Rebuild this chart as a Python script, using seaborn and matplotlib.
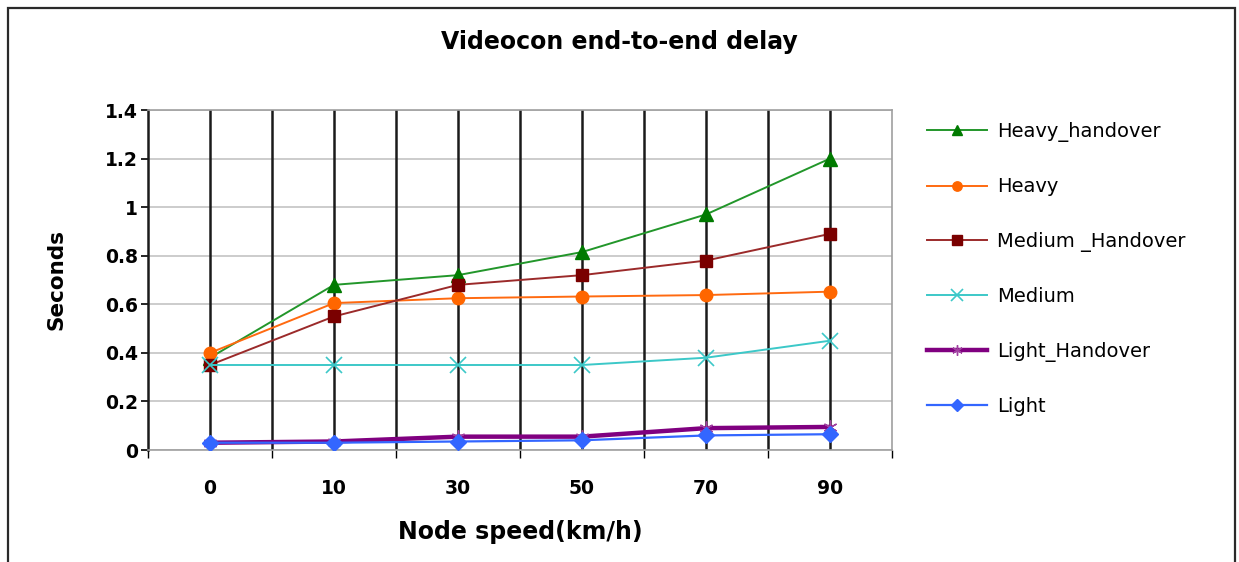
import matplotlib
matplotlib.use("Agg")
import matplotlib.pyplot as plt
from matplotlib.patches import Rectangle
import seaborn as sns
import pandas as pd

# Node speed categories (km/h)
speeds = ["0", "10", "30", "50", "70", "90"]

# End-to-end delay in seconds for each traffic load
heavy_handover = [0.38, 0.68, 0.72, 0.815, 0.97, 1.20]
heavy = [0.40, 0.605, 0.625, 0.632, 0.638, 0.652]
medium_handover = [0.35, 0.55, 0.68, 0.72, 0.78, 0.89]
medium = [0.35, 0.35, 0.35, 0.35, 0.38, 0.45]
light_handover = [0.03, 0.035, 0.055, 0.055, 0.09, 0.095]
light = [0.03, 0.03, 0.035, 0.04, 0.06, 0.065]

series_names = ["Heavy_handover", "Heavy", "Medium _Handover", "Medium",
                "Light_Handover", "Light"]
series_values = [heavy_handover, heavy, medium_handover, medium,
                 light_handover, light]

y_ticks = [0, 0.2, 0.4, 0.6, 0.8, 1, 1.2, 1.4]
y_tick_labels = ["0", "0.2", "0.4", "0.6", "0.8", "1", "1.2", "1.4"]

rows = []
for name, vals in zip(series_names, series_values):
    for i, (s, v) in enumerate(zip(speeds, vals)):
        rows.append({"series": name, "pos": i, "speed": s, "delay": v})
df = pd.DataFrame(rows)

styles = {
    "Heavy_handover": dict(color="#22962a", marker="^", ms=10, mfc="#007a00", mec="#007a00", mew=1, lw=1.4),
    "Heavy": dict(color="#ff6a10", marker="o", ms=9, mfc="#ff6600", mec="#ff6600", mew=1, lw=1.4),
    "Medium _Handover": dict(color="#9b2a2a", marker="s", ms=9, mfc="#7a0000", mec="#7a0000", mew=1, lw=1.4),
    "Medium": dict(color="#3cc8c8", marker="x", ms=11, mfc="#3cc8c8", mec="#3cc8c8", mew=1.2, lw=1.4),
    "Light_Handover": dict(color="#800080", marker=(6, 2, 0), ms=10, mfc="#800080", mec="#a040a0", mew=1.0, lw=3.2),
    "Light": dict(color="#3366ff", marker="D", ms=8, mfc="#3366ff", mec="#3366ff", mew=1, lw=1.6),
}

fig = plt.figure(figsize=(12.39, 5.62), dpi=100)
ax = fig.add_axes([148 / 1239, 1 - 450 / 562, (892 - 148) / 1239, (450 - 110) / 562])

for z, name in enumerate(series_names):
    st = styles[name]
    sub = df[df["series"] == name]
    sns.lineplot(data=sub, x="pos", y="delay", ax=ax, color=st["color"],
                 marker=st["marker"], markersize=st["ms"],
                 markerfacecolor=st["mfc"], markeredgecolor=st["mec"],
                 markeredgewidth=st["mew"], linewidth=st["lw"],
                 label=name, zorder=3 + z)

ax.set_xlim(-0.5, len(speeds) - 0.5)
ax.set_ylim(0, 1.4)

# category labels at centres, tick marks at category boundaries
ax.set_xticks(range(len(speeds)))
ax.set_xticklabels(speeds, fontsize=13.5, fontweight="bold")
ax.set_xticks([i - 0.5 for i in range(len(speeds) + 1)], minor=True)
ax.tick_params(axis="x", which="major", length=0, pad=21)
ax.tick_params(axis="x", which="minor", length=6, width=1, direction="out", color="black")

ax.set_yticks(y_ticks)
ax.set_yticklabels(y_tick_labels, fontsize=13.5, fontweight="bold")
ax.tick_params(axis="y", length=5, width=1.2, direction="out", color="black", pad=2)

# grey horizontal grid, black vertical grid at every half category
for yv in y_ticks:
    ax.axhline(yv, color="#c4c4c4", lw=1.2, zorder=1)
for i in range(1, len(speeds) * 2):
    ax.axvline(-0.5 + 0.5 * i, color="#1a1a1a", lw=1.8, zorder=2)

for side in ["top", "right", "bottom"]:
    ax.spines[side].set_color("#a0a0a0")
    ax.spines[side].set_linewidth(1.2)
ax.spines["left"].set_color("#1a1a1a")
ax.spines["left"].set_linewidth(1.8)

ax.set_xlabel("Node speed(km/h)", fontsize=17, fontweight="bold", labelpad=16)
ax.set_ylabel("Seconds", fontsize=15.5, fontweight="bold", labelpad=28)

fig.text(0.5, 1 - 42 / 562, "Videocon end-to-end delay", ha="center", va="center",
         fontsize=17, fontweight="bold")

leg = ax.legend(loc="upper left", bbox_to_anchor=(927 / 1239, 1 - 122 / 562),
                bbox_transform=fig.transFigure, frameon=False, fontsize=14,
                handlelength=3.1, handletextpad=0.5, labelspacing=1.82,
                borderpad=0, borderaxespad=0, markerscale=0.75)

# outer chart border
fig.patches.append(Rectangle((8 / 1239, -0.02), (1235 - 8) / 1239, 1 - 8 / 562 + 0.02,
                             transform=fig.transFigure, fill=False,
                             edgecolor="#2a2a2a", lw=1.6))

fig.savefig("out.png", dpi=100)
